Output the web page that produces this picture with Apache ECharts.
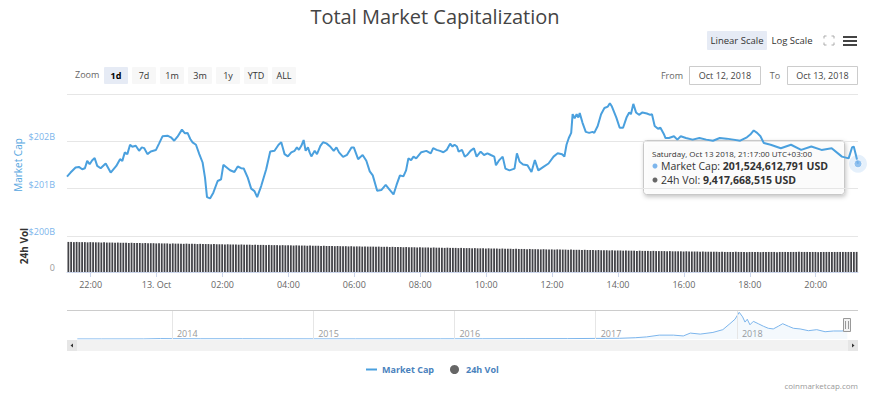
<!DOCTYPE html>
<html><head><meta charset="utf-8">
<script src="https://cdn.jsdelivr.net/npm/echarts@6/dist/echarts.min.js"></script>
<style>html,body{margin:0;padding:0;background:#fff}#c{width:870px;height:396px}</style>
</head><body><div id="c"></div>
<script>
const FONT = "'Open Sans', sans-serif";

// Market cap line: hours since Oct 12 00:00 (UTC+3), values in $B
const mcapHours = [
21.283,21.391,21.543,21.644,21.744,21.826,21.896,21.970,22.049,22.122,22.200,22.304,22.457,22.609,22.779,22.892,22.962,23.035,23.114,23.196,
23.266,23.370,23.470,23.553,23.623,23.723,23.826,23.979,24.079,24.180,24.332,24.435,24.536,24.636,24.770,24.861,24.941,25.023,25.093,25.196,
25.297,25.397,25.470,25.531,25.623,25.723,25.854,25.957,26.027,26.128,26.231,26.362,26.463,26.566,26.645,26.767,26.871,26.971,27.053,27.175,
27.327,27.449,27.580,27.702,27.784,27.884,27.985,28.088,28.189,28.259,28.320,28.393,28.463,28.524,28.594,28.645,28.697,28.798,28.868,28.971,
29.050,29.154,29.276,29.376,29.458,29.537,29.659,29.781,29.915,29.985,30.116,30.168,
30.253,30.365,30.469,30.560,30.694,30.819,30.953,31.056,31.190,31.282,31.385,31.489,31.571,31.641,31.723,31.796,31.878,32.033,32.186,32.320,
32.393,32.496,32.600,32.703,32.804,32.907,32.980,33.041,33.114,33.166,33.267,33.352,33.422,33.525,33.629,33.711,33.833,33.936,34.040,34.143,
34.247,34.298,34.399,34.502,34.584,34.709,34.861,34.934,35.017,35.120,35.254,35.376,35.479,35.583,35.738,35.893,36.046,36.171,36.304,36.375,
36.439,36.508,36.581,36.624,36.685,36.746,36.798,36.840,36.922,37.023,37.126,37.230,37.281,37.385,37.488,37.589,37.693,37.754,37.817,37.951,
38.052,38.155,38.259,38.341,38.393,38.466,38.548,38.639,38.743,38.877,38.980,39.032,39.114,39.215,39.288,39.391,39.443,
39.546,39.699,39.802,39.905,40.061,40.265,40.471,40.678,40.883,41.089,41.294,41.500,41.708,41.912,42.015,42.119,42.222,42.323,42.426,42.633,
42.941,43.250,43.559,43.866,44.176,44.484,44.795,44.999,45.102,45.154,45.206,45.283];
const mcapValues = [
201.255,201.340,201.447,201.460,201.410,201.432,201.587,201.517,201.602,201.645,201.481,201.432,201.532,201.340,201.481,201.623,201.587,201.766,201.730,201.928,
201.885,201.906,201.800,201.872,201.857,201.730,201.787,201.815,201.957,202.106,202.119,202.085,202.013,202.098,202.247,202.170,202.177,202.049,201.979,201.928,
201.730,201.553,201.234,200.821,200.794,200.915,201.162,201.198,201.502,201.447,201.389,201.353,201.468,201.432,201.426,201.234,201.000,200.949,200.821,201.055,
201.411,201.787,201.800,201.928,201.979,201.730,201.681,201.766,201.800,201.872,201.821,201.906,202.028,201.800,201.872,201.766,201.681,201.800,201.730,201.906,
201.979,201.957,201.885,201.800,201.872,201.766,201.672,201.715,201.872,201.872,201.623,201.660,
201.711,201.589,201.366,201.281,200.957,200.970,201.079,200.991,200.877,201.079,201.281,201.260,201.387,201.640,201.604,201.677,201.640,201.770,201.798,201.747,
201.855,201.819,201.798,201.770,201.819,201.949,201.891,201.928,201.891,201.783,201.819,201.677,201.711,201.798,201.855,201.677,201.783,201.711,201.747,201.711,
201.677,201.496,201.604,201.677,201.423,201.387,201.423,201.747,201.568,201.511,201.496,201.351,201.604,201.387,201.460,201.532,201.677,201.747,201.726,201.677,
201.928,202.070,202.179,202.574,202.489,202.574,202.502,202.596,202.396,202.200,202.179,202.200,202.179,202.323,202.574,202.704,202.734,202.804,202.734,202.502,
202.287,202.287,202.502,202.611,202.574,202.791,202.611,202.560,202.611,202.589,202.560,202.574,202.323,202.266,202.287,202.157,202.070,
202.070,202.106,202.036,202.106,202.070,202.036,202.070,202.036,202.013,202.070,202.057,202.036,202.013,202.085,202.143,202.230,202.179,202.106,201.964,201.928,
201.855,201.928,201.819,201.891,201.819,201.855,201.677,201.640,201.870,201.891,201.747,201.525];

// 24h volume, $B, one bar every 5 minutes starting 21:17
const volStartHour = 21.283;
const volStepHours = 5 / 60;
const volValues = [
14.1,14.1,14.0,14.1,14.0,14.0,14.0,13.9,14.0,13.9,13.9,13.9,13.8,13.9,13.8,13.8,13.8,13.7,13.8,13.7,13.7,13.7,13.6,13.7,
13.6,13.6,13.6,13.5,13.6,13.5,13.5,13.5,13.4,13.5,13.4,13.4,13.4,13.3,13.4,13.3,13.3,13.3,13.2,13.3,13.2,13.2,13.2,13.1,
13.2,13.1,13.1,13.1,13.0,13.1,13.0,13.0,13.0,12.9,13.0,12.9,12.9,12.9,12.8,12.9,12.8,12.8,12.8,12.7,12.8,12.7,12.7,12.7,
12.6,12.7,12.6,12.6,12.6,12.5,12.6,12.5,12.5,12.5,12.4,12.5,12.4,12.4,12.4,12.3,12.4,12.3,12.3,12.3,12.2,12.3,12.2,12.2,
12.2,12.1,12.2,12.1,12.1,12.1,12.0,12.1,12.0,12.0,12.0,11.9,12.0,11.9,11.9,11.9,11.8,11.9,11.8,11.8,11.8,11.7,11.8,11.7,
11.7,11.7,11.6,11.7,11.6,11.6,11.6,11.5,11.6,11.5,11.5,11.5,11.4,11.5,11.4,11.4,11.4,11.3,11.4,11.3,11.3,11.3,11.2,11.3,
11.2,11.2,11.2,11.1,11.2,11.1,11.1,11.1,11.0,11.1,11.0,11.0,11.0,10.9,11.0,10.9,10.9,10.9,10.8,10.9,10.8,10.8,10.8,10.7,
10.8,10.7,10.7,10.7,10.6,10.7,10.6,10.6,10.6,10.5,10.6,10.5,10.5,10.5,10.4,10.5,10.4,10.4,10.4,10.3,10.4,10.3,10.3,10.3,
10.2,10.3,10.2,10.2,10.2,10.1,10.2,10.1,10.1,10.1,10.0,10.1,10.0,10.0,10.0,9.9,10.0,9.9,9.9,9.9,9.8,9.9,9.8,9.8,
9.8,9.8,9.7,9.8,9.7,9.7,9.7,9.7,9.6,9.7,9.6,9.6,9.6,9.6,9.5,9.6,9.5,9.5,9.5,9.5,9.5,9.4,9.5,9.4,
9.4,9.4,9.4,9.5,9.4,9.4,9.4,9.3,9.4,9.4,9.4,9.4,9.3,9.4,9.4,9.4,9.4,9.4,9.3,9.4,9.4,9.4,9.4,9.4,
9.4,9.4,9.5,9.4,9.4,9.4,9.4,9.4,9.4,9.3,9.4,9.4,9.4,9.4,9.4,9.4,9.4,9.4,9.4,9.4,9.4,9.4,9.4,9.42];

// axis ticks
const yTicks = [200, 201, 202];
const xTickHours = [22, 24, 26, 28, 30, 32, 34, 36, 38, 40, 42, 44];
const xTickLabels = ['22:00', '13. Oct', '02:00', '04:00', '06:00', '08:00', '10:00', '12:00', '14:00', '16:00', '18:00', '20:00'];

// navigator (all-time market cap, $B) by fractional year
const navYears = [2013.33,2013.5,2013.8,2013.92,2014.0,2014.2,2014.5,2014.8,2015.0,2015.3,2015.6,2015.9,2016.2,2016.5,2016.8,2017.0,2017.17,2017.28,2017.36,2017.45,
2017.55,2017.62,2017.67,2017.74,2017.83,2017.90,2017.95,2017.986,2018.016,2018.04,2018.057,2018.073,2018.092,2018.116,2018.151,2018.187,2018.222,2018.257,2018.293,2018.324,
2018.364,2018.4,2018.447,2018.506,2018.565,2018.624,2018.683,2018.743,2018.781];
const navValues = [1.4,1.2,2.5,13,10,7,8,5,4,3.5,4,5,7,11,12,18,22,40,65,120,
120,95,184,152,204,290,475,614,830,688,526,614,442,549,475,397,333,313,397,475,
397,333,313,258,290,226,249,249,270];
const navTickYears = [2014, 2015, 2016, 2017, 2018];

const zoomButtons = ['1d', '7d', '1m', '3m', '1y', 'YTD', 'ALL'];

const LINE = '#4aa0de';
const VOL = '#434348';

const mcapData = mcapHours.map((h, i) => [h, mcapValues[i]]);
const volData = volValues.map((v, i) => [volStartHour + (i + 0.5) * volStepHours, v]);
const navData = navYears.map((y, i) => [y, navValues[i]]);
const last = mcapData[mcapData.length - 1];

const chart = echarts.init(document.getElementById('c'), null, { renderer: 'svg' });

const graphics = [];
// zoom buttons
graphics.push({ type: 'text', left: 75, top: 70, style: { text: 'Zoom', fontSize: 9, fill: '#666', fontFamily: FONT } });
zoomButtons.forEach((b, i) => {
  const x = 104 + i * 28;
  const sel = i === 0;
  graphics.push({ type: 'rect', shape: { x: x, y: 67, width: 24, height: 17, r: 1 }, style: { fill: sel ? '#e6ebf5' : '#f7f7f7' } });
  graphics.push({ type: 'text', x: x + 12, y: 75.5, style: { text: b, fontSize: 9, fontWeight: sel ? 'bold' : 'normal', fill: sel ? '#000' : '#333', align: 'center', verticalAlign: 'middle', fontFamily: FONT } });
});
// scale buttons
graphics.push({ type: 'rect', shape: { x: 707, y: 31, width: 60, height: 19, r: 1 }, style: { fill: '#e6ebf5' } });
graphics.push({ type: 'text', x: 737, y: 40.5, style: { text: 'Linear Scale', fontSize: 9.5, fill: '#333', align: 'center', verticalAlign: 'middle', fontFamily: FONT } });
graphics.push({ type: 'text', x: 792, y: 40.5, style: { text: 'Log Scale', fontSize: 9.5, fill: '#333', align: 'center', verticalAlign: 'middle', fontFamily: FONT } });
// fullscreen icon
[[824, 36, 1, 1], [834, 36, -1, 1], [824, 45, 1, -1], [834, 45, -1, -1]].forEach(c => {
  graphics.push({ type: 'polyline', shape: { points: [[c[0], c[1] + 2.5 * c[3]], [c[0], c[1]], [c[0] + 2.5 * c[2], c[1]]] }, style: { stroke: '#aaa', lineWidth: 1, fill: null } });
});
// hamburger
[36, 40, 44].forEach(y => graphics.push({ type: 'rect', shape: { x: 843, y: y, width: 14, height: 2 }, style: { fill: '#444' } }));
// from / to
graphics.push({ type: 'text', x: 672, y: 75.5, style: { text: 'From', fontSize: 9, fill: '#666', align: 'center', verticalAlign: 'middle', fontFamily: FONT } });
graphics.push({ type: 'rect', shape: { x: 689.5, y: 66.5, width: 71, height: 18 }, style: { fill: '#fff', stroke: '#ccc', lineWidth: 1 } });
graphics.push({ type: 'text', x: 725, y: 75.5, style: { text: 'Oct 12, 2018', fontSize: 9, fill: '#444', align: 'center', verticalAlign: 'middle', fontFamily: FONT } });
graphics.push({ type: 'text', x: 775, y: 75.5, style: { text: 'To', fontSize: 9, fill: '#666', align: 'center', verticalAlign: 'middle', fontFamily: FONT } });
graphics.push({ type: 'rect', shape: { x: 787.5, y: 66.5, width: 70, height: 18 }, style: { fill: '#fff', stroke: '#ccc', lineWidth: 1 } });
graphics.push({ type: 'text', x: 822.5, y: 75.5, style: { text: 'Oct 13, 2018', fontSize: 9, fill: '#444', align: 'center', verticalAlign: 'middle', fontFamily: FONT } });
// 24h Vol axis title
graphics.push({ type: 'text', x: 24, y: 246, rotation: Math.PI / 2, style: { text: '24h Vol', fontSize: 10, fontWeight: 'bold', fill: '#333', align: 'center', verticalAlign: 'middle', fontFamily: FONT } });
// navigator top outline
graphics.push({ type: 'line', shape: { x1: 67, y1: 310.5, x2: 858, y2: 310.5 }, style: { stroke: '#ccc', lineWidth: 1 } });
// scrollbar
graphics.push({ type: 'rect', shape: { x: 67, y: 340, width: 791, height: 11 }, style: { fill: '#f2f2f2' } });
graphics.push({ type: 'rect', shape: { x: 67, y: 340, width: 10, height: 11 }, style: { fill: '#e6e6e6' } });
graphics.push({ type: 'polygon', shape: { points: [[70.5, 345.5], [73, 343.5], [73, 347.5]] }, style: { fill: '#333' } });
graphics.push({ type: 'rect', shape: { x: 848, y: 340, width: 10, height: 11 }, style: { fill: '#e6e6e6' } });
graphics.push({ type: 'polygon', shape: { points: [[854.5, 345.5], [852, 343.5], [852, 347.5]] }, style: { fill: '#333' } });
// legend
graphics.push({ type: 'line', shape: { x1: 366, y1: 369.5, x2: 377, y2: 369.5 }, style: { stroke: LINE, lineWidth: 2 } });
graphics.push({ type: 'text', x: 382, y: 369.5, style: { text: 'Market Cap', fontSize: 9, fontWeight: 'bold', fill: '#4a82bd', verticalAlign: 'middle', fontFamily: FONT } });
graphics.push({ type: 'circle', shape: { cx: 454.5, cy: 369.5, r: 4.5 }, style: { fill: '#666' } });
graphics.push({ type: 'text', x: 466, y: 369.5, style: { text: '24h Vol', fontSize: 9, fontWeight: 'bold', fill: '#4a82bd', verticalAlign: 'middle', fontFamily: FONT } });
// credit
graphics.push({ type: 'text', x: 858, y: 385, style: { text: 'coinmarketcap.com', fontSize: 8, fill: '#999', align: 'right', verticalAlign: 'middle', fontFamily: FONT } });
// tooltip
const tipRich = {
  n: { fontSize: 10.5, lineHeight: 12, fill: '#333', fontFamily: FONT },
  v: { fontSize: 10.5, lineHeight: 12, fontWeight: 'bold', fill: '#333', fontFamily: FONT }
};
graphics.push({
  type: 'group', x: 643, y: 140, z: 100, children: [
    { type: 'rect', shape: { x: 0.5, y: 0.5, width: 201, height: 54, r: 3 }, style: { fill: 'rgba(255,255,255,0.86)', stroke: '#c8c8c8', lineWidth: 1, shadowBlur: 4, shadowOffsetX: 1, shadowOffsetY: 2, shadowColor: 'rgba(0,0,0,0.25)' } },
    { type: 'text', x: 9, y: 13.5, style: { text: 'Saturday, Oct 13 2018, 21:17:00 UTC+03:00', fontSize: 8, lineHeight: 9, fill: '#333', verticalAlign: 'middle', fontFamily: FONT } },
    { type: 'circle', shape: { cx: 12, cy: 26, r: 2.5 }, style: { fill: '#7cb5ec' } },
    { type: 'text', x: 18, y: 26, style: { rich: tipRich, text: '{n|Market Cap: }{v|201,524,612,791 USD}', verticalAlign: 'middle' } },
    { type: 'circle', shape: { cx: 12, cy: 40, r: 2.5 }, style: { fill: '#666' } },
    { type: 'text', x: 18, y: 40, style: { rich: tipRich, text: '{n|24h Vol: }{v|9,417,668,515 USD}', verticalAlign: 'middle' } }
  ]
});

const option = {
  animation: false,
  textStyle: { fontFamily: FONT },
  title: { text: 'Total Market Capitalization', left: 'center', top: 1, textStyle: { fontSize: 20, fontWeight: 'normal', color: '#444', fontFamily: FONT } },
  grid: [
    { left: 67, right: 12, top: 94, height: 142 },
    { left: 67, right: 12, top: 240, height: 32 },
    { left: 67, right: 12, top: 311, height: 28 }
  ],
  xAxis: [
    { gridIndex: 0, type: 'value', min: 21.283, max: 45.283, show: false },
    {
      gridIndex: 1, type: 'value', min: 21.283, max: 45.283,
      axisLine: { show: true, lineStyle: { color: '#ccd6eb' } },
      axisTick: { show: true, customValues: xTickHours, length: 5, lineStyle: { color: '#ccd6eb' } },
      axisLabel: { customValues: xTickHours, formatter: v => xTickLabels[xTickHours.indexOf(v)] || '', color: '#666', fontSize: 9, margin: 8 },
      splitLine: { show: false }
    },
    {
      gridIndex: 2, type: 'value', min: 2013.257, max: 2018.857,
      axisLine: { show: false }, axisTick: { show: false }, splitLine: { show: false },
      axisLabel: { customValues: navTickYears, formatter: v => String(v), inside: true, align: 'left', padding: [0, 0, 0, 5], color: '#999', fontSize: 9, margin: 1 }
    }
  ],
  yAxis: [
    {
      gridIndex: 0, type: 'value', min: 200, max: 203, interval: 1,
      axisLine: { show: false }, axisTick: { show: false },
      splitLine: { lineStyle: { color: '#e6e6e6' } },
      axisLabel: { customValues: yTicks, formatter: v => '$' + v + 'B', color: '#7cb5ec', fontSize: 9, verticalAlign: 'bottom', margin: 12 },
      name: 'Market Cap', nameLocation: 'middle', nameGap: 44, nameRotate: 90, nameMoveOverlap: false,
      nameTextStyle: { color: '#55a6e0', fontSize: 10 }
    },
    {
      gridIndex: 1, type: 'value', min: 0, max: 15,
      axisLine: { show: false }, axisTick: { show: false }, splitLine: { show: false },
      axisLabel: { customValues: [0], color: '#999', fontSize: 9, verticalAlign: 'bottom', margin: 12 }
    },
    { gridIndex: 2, type: 'value', min: 0, max: 870, show: false }
  ],
  series: [
    { name: 'Market Cap', type: 'line', xAxisIndex: 0, yAxisIndex: 0, data: mcapData, showSymbol: false, lineStyle: { color: LINE, width: 2 }, itemStyle: { color: LINE }, z: 3 },
    { type: 'scatter', xAxisIndex: 0, yAxisIndex: 0, data: [last], symbolSize: 18, itemStyle: { color: 'rgba(124,181,236,0.25)' }, clip: false, silent: true, z: 4 },
    { type: 'scatter', xAxisIndex: 0, yAxisIndex: 0, data: [last], symbolSize: 8, itemStyle: { color: '#7cb5ec', borderColor: '#fff', borderWidth: 1 }, clip: false, silent: true, z: 5 },
    { name: '24h Vol', type: 'bar', xAxisIndex: 1, yAxisIndex: 1, data: volData, barWidth: 1.8, itemStyle: { color: VOL } },
    {
      type: 'line', xAxisIndex: 2, yAxisIndex: 2, data: navData, showSymbol: false, smooth: false,
      lineStyle: { color: '#7cb5ec', width: 1 }, areaStyle: { color: 'rgba(124,181,236,0.12)' },
      markLine: { silent: true, symbol: 'none', label: { show: false }, lineStyle: { color: '#e6e6e6', type: 'solid', width: 1 }, data: navTickYears.map(y => ({ xAxis: y })) }
    }
  ],
  graphic: graphics
};
chart.setOption(option);

// navigator handle at the end of the selected range
const hx = chart.convertToPixel({ xAxisIndex: 2 }, navYears[navYears.length - 1]);
chart.setOption({
  graphic: graphics.concat([
    { type: 'rect', shape: { x: Math.round(hx) - 3.5, y: 318.5, width: 7, height: 13 }, style: { fill: '#f2f2f2', stroke: '#999', lineWidth: 1 }, z: 50 },
    { type: 'line', shape: { x1: Math.round(hx) - 1.5, y1: 321, x2: Math.round(hx) - 1.5, y2: 329 }, style: { stroke: '#999', lineWidth: 1 }, z: 51 },
    { type: 'line', shape: { x1: Math.round(hx) + 1.5, y1: 321, x2: Math.round(hx) + 1.5, y2: 329 }, style: { stroke: '#999', lineWidth: 1 }, z: 51 }
  ])
});
</script>
</body></html>
